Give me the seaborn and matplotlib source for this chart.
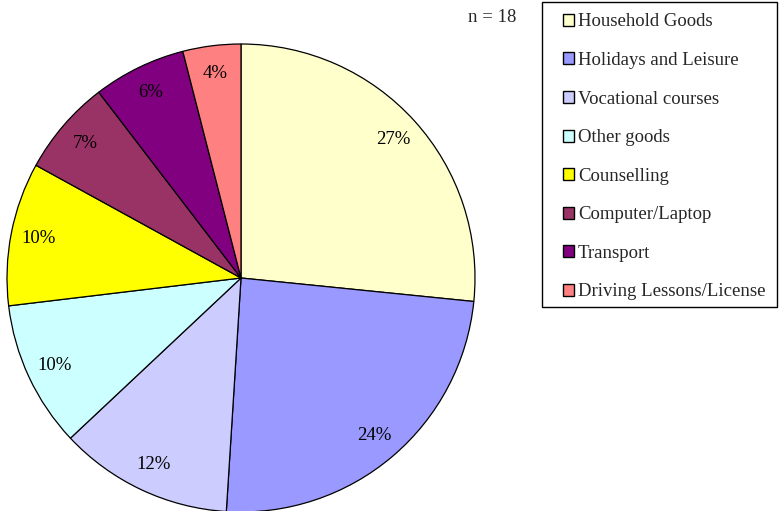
import matplotlib
matplotlib.use('Agg')

import matplotlib.pyplot as plt
from matplotlib.patches import Rectangle
import seaborn as sns

# ── Data ─────────────────────────────────────────────────────────────────────
categories = [
    "Household Goods",
    "Holidays and Leisure",
    "Vocational courses",
    "Other goods",
    "Counselling",
    "Computer/Laptop",
    "Transport",
    "Driving Lessons/License",
]
shares = [26.6, 24.4, 12.0, 10.1, 9.9, 6.6, 6.4, 4.0]   # percent of total
n_total = 18

colors = ["#FFFFCC", "#9999FF", "#CCCCFF", "#CCFFFF",
          "#FFFF00", "#993366", "#800080", "#FF8080"]

# ── Style ────────────────────────────────────────────────────────────────────
sns.set_theme(style="white")
plt.rcParams['font.family'] = ['Liberation Serif', 'DejaVu Serif']
FS = 13.5

W, H = 779, 511
fig = plt.figure(figsize=(W / 100, H / 100), dpi=100)

# pie centred at (241, 278) px with radius 234 px
cx, cy, r = 241, 278, 234
ax = fig.add_axes([(cx - r) / W, (H - cy - r) / H, 2 * r / W, 2 * r / H])

wedges, _, autotexts = ax.pie(
    shares,
    colors=colors,
    startangle=90,
    counterclock=False,
    autopct="%.0f%%",
    pctdistance=0.88,
    wedgeprops=dict(edgecolor="black", linewidth=0.9),
    textprops=dict(fontsize=FS, color="black"),
)
ax.set_xlim(-1.0, 1.0)
ax.set_ylim(-1.0, 1.0)
ax.set_aspect("equal")
ax.axis("off")

fig.text(468 / W, 1 - 18 / H, f"n = {n_total}", fontsize=FS,
         ha="left", va="center")

# legend frame drawn as a plain box (x 542-777, y 2-307 px)
fig.patches.append(Rectangle((542 / W, 1 - 307 / H), 235 / W, 305 / H,
                             transform=fig.transFigure, fill=False,
                             edgecolor="black", linewidth=1.0))

leg = fig.legend(
    wedges, categories,
    loc="upper left",
    bbox_to_anchor=(563 / W, 1 - 13.5 / H),
    borderaxespad=0,
    borderpad=0,
    frameon=False,
    fontsize=FS,
    handlelength=0.6,
    handleheight=0.6,
    handletextpad=0.2,
    labelspacing=1.15,
)
for h in leg.legend_handles:
    h.set_linewidth(1.0)

fig.savefig("out.png", dpi=100, facecolor="white")
